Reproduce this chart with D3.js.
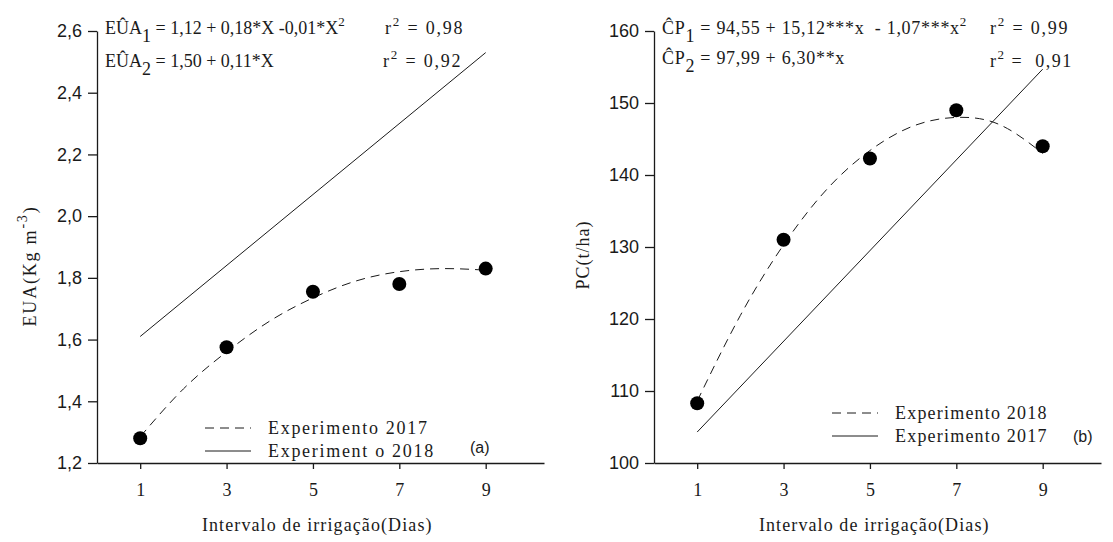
<!DOCTYPE html>
<html>
<head>
<meta charset="utf-8">
<script src="https://cdn.jsdelivr.net/npm/d3@7"></script>
<style>
  body { margin: 0; background: #fff; }
  svg { display: block; }
  .serif { font-family: "Liberation Serif", "Times New Roman", serif; }
  .tick text { font-family: "Liberation Sans", Arial, sans-serif; }
</style>
</head>
<body>
<svg id="chart" width="1113" height="542"></svg>
<script>
const width = 1113
const height = 542

// shared x values (irrigation interval, days)
const days = [1, 3, 5, 7, 9]
const xTicks = [1, 3, 5, 7, 9]
const curveDays = [1, 2, 3, 4, 5, 6, 7, 8, 9]
const lineDays = [1, 9]

// panel (a) EUA
const euaTicks = [1.2, 1.4, 1.6, 1.8, 2.0, 2.2, 2.4, 2.6]
const eua2017 = [1.28, 1.575, 1.755, 1.78, 1.83]
const eua2017Curve = [1.285, 1.44, 1.56, 1.66, 1.735, 1.79, 1.82, 1.83, 1.825]
const eua2018Line = [1.61, 2.53]

// panel (b) PC
const pcTicks = [100, 110, 120, 130, 140, 150, 160]
const pc2018 = [108.3, 131, 142.3, 149, 144]
const pc2018Curve = [108.6, 120.5, 130.3, 138, 143.4, 146.8, 148, 147, 143]
const pc2017Line = [104.3, 154.7]

const comma = d3.formatLocale({ decimal: ',', thousands: '.', grouping: [3], currency: ['', ''] })
const ink = '#1a1a1a'
const fs = 18

const svg = d3.select('#chart')

function panel(opt) {
  const x = d3.scaleLinear().domain([0, 10.35]).range([opt.left, opt.left + 447])
  const y = d3.scaleLinear().domain(opt.yDomain).range([463, 31])
  const g = svg.append('g')

  const xAxis = g.append('g')
    .attr('transform', 'translate(0,463)')
    .call(d3.axisBottom(x).tickValues(xTicks).tickSize(6).tickSizeOuter(0).tickPadding(14))
  xAxis.selectAll('text').style('font-family', '"Liberation Serif", serif')
    .attr('font-size', fs).attr('fill', ink)

  const yAxis = g.append('g')
    .attr('transform', `translate(${opt.left},0)`)
    .call(d3.axisLeft(y).tickValues(opt.yTicks).tickSize(9).tickSizeOuter(0).tickPadding(6).tickFormat(opt.fmt))
  yAxis.selectAll('text').attr('font-size', fs).attr('fill', ink)
  g.selectAll('.domain, .tick line').attr('stroke', ink).attr('stroke-width', 1.3)

  const line = d3.line().x(d => x(d[0])).y(d => y(d[1]))

  // fitted curve (dashed)
  g.append('path')
    .datum(d3.zip(curveDays, opt.curve))
    .attr('d', line.curve(d3.curveNatural))
    .attr('fill', 'none').attr('stroke', ink).attr('stroke-width', 1)
    .attr('stroke-dasharray', '9,6')

  // straight fit (solid)
  g.append('path')
    .datum(d3.zip(lineDays, opt.line))
    .attr('d', d3.line().x(d => x(d[0])).y(d => y(d[1])))
    .attr('fill', 'none').attr('stroke', ink).attr('stroke-width', 1)

  g.selectAll('circle.pt')
    .data(d3.zip(days, opt.points))
    .enter()
    .append('circle')
    .attr('class', 'pt')
    .attr('cx', d => x(d[0]))
    .attr('cy', d => y(d[1]))
    .attr('r', 7)
    .attr('fill', '#000')

  // x title
  g.append('text')
    .attr('class', 'serif')
    .attr('x', x(5.1)).attr('y', 531)
    .attr('text-anchor', 'middle').attr('font-size', fs).attr('letter-spacing', 1.1).attr('fill', ink)
    .text('Intervalo de irrigação(Dias)')

  return { g, x, y }
}

function equation(g, xPos, yPos, parts, spacing) {
  const t = g.append('text').attr('class', 'serif')
    .attr('x', xPos).attr('y', yPos).attr('font-size', fs).attr('fill', ink)
    .attr('letter-spacing', spacing || 0).attr('xml:space', 'preserve')
  parts.forEach(p => {
    const s = t.append('tspan').text(p.t)
    if (p.sub) s.attr('dy', 8)
    if (p.sup) s.attr('dy', -8).attr('font-size', 13)
    if (p.back) s.attr('dy', p.back)
  })
  return t
}

function legend(g, lx, ly, labels, tag, spacing) {
  labels.forEach((lab, i) => {
    const yy = ly + i * 23
    g.append('line')
      .attr('x1', lx).attr('x2', lx + 46).attr('y1', yy).attr('y2', yy)
      .attr('stroke', ink).attr('stroke-width', 1)
      .attr('stroke-dasharray', i === 0 ? '9,6' : null)
    g.append('text').attr('class', 'serif')
      .attr('x', lx + 63).attr('y', yy + 6)
      .attr('font-size', fs).attr('letter-spacing', spacing).attr('fill', ink).text(lab)
  })
  g.append('text')
    .attr('x', tag[0]).attr('y', tag[1])
    .attr('font-family', '"Liberation Sans", Arial, sans-serif')
    .attr('font-size', 16).attr('fill', ink).text(tag[2])
}

// ---------- panel (a)
const a = panel({
  left: 97, yDomain: [1.2, 2.6], yTicks: euaTicks, fmt: comma.format('.1f'),
  points: eua2017, curve: eua2017Curve, line: eua2018Line
})

const yt = a.g.append('text').attr('class', 'serif')
  .attr('transform', 'translate(36,266) rotate(-90)')
  .attr('text-anchor', 'middle').attr('font-size', fs).attr('letter-spacing', 1.8).attr('fill', ink)
yt.append('tspan').text('EUA(Kg m')
yt.append('tspan').attr('dy', -9).attr('font-size', 14).text('-3')
yt.append('tspan').attr('dy', 9).text(')')

equation(a.g, 105, 34, [
  { t: 'EÛA' }, { t: '1', sub: true }, { t: ' = 1,12 + 0,18*X -0,01*X', back: -8 }, { t: '2', sup: true }
])
equation(a.g, 385, 34, [{ t: 'r' }, { t: '2', sup: true }, { t: ' = 0,98', back: 8 }], 1.8)
equation(a.g, 105, 67, [
  { t: 'EÛA' }, { t: '2', sub: true }, { t: ' = 1,50 + 0,11*X', back: -8 }
])
equation(a.g, 383, 67, [{ t: 'r' }, { t: '2', sup: true }, { t: ' = 0,92', back: 8 }], 1.8)

legend(a.g, 205, 428, ['Experimento 2017', 'Experiment o 2018'], [470, 453, '(a)'], 1.7)

// ---------- panel (b)
const b = panel({
  left: 654, yDomain: [100, 160], yTicks: pcTicks, fmt: d3.format('d'),
  points: pc2018, curve: pc2018Curve, line: pc2017Line
})

b.g.append('text').attr('class', 'serif')
  .attr('transform', 'translate(589,255) rotate(-90)')
  .attr('text-anchor', 'middle').attr('font-size', fs).attr('letter-spacing', 1).attr('fill', ink)
  .text('PC(t/ha)')

equation(b.g, 662, 34, [
  { t: 'ĈP' }, { t: '1', sub: true }, { t: ' = 94,55 + 15,12***x  - 1,07***x', back: -8 }, { t: '2', sup: true }
], 0.7)
equation(b.g, 990, 34, [{ t: 'r' }, { t: '2', sup: true }, { t: ' = 0,99', back: 8 }], 1.8)
equation(b.g, 662, 64, [
  { t: 'ĈP' }, { t: '2', sub: true }, { t: ' = 97,99 + 6,30**x', back: -8 }
], 0.7)
equation(b.g, 990, 67, [{ t: 'r' }, { t: '2', sup: true }, { t: ' =  0,91', back: 8 }], 1.5)

legend(b.g, 832, 413, ['Experimento 2018', 'Experimento 2017'], [1073, 442, '(b)'], 1.2)
</script>
</body>
</html>
